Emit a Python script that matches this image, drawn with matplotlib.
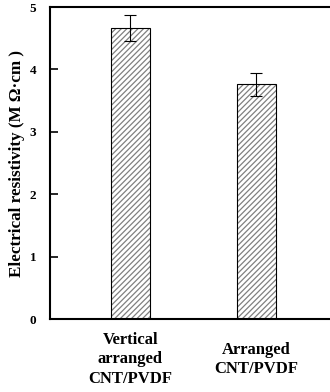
import numpy as np
import matplotlib.pyplot as plt

plt.rcParams['font.family'] = ['Liberation Serif', 'DejaVu Serif']
plt.rcParams['font.weight'] = 'bold'
plt.rcParams['hatch.linewidth'] = 0.9

samples = ['Vertical\narranged\nCNT/PVDF', 'Arranged\nCNT/PVDF']
resistivity = [4.66, 3.76]
errors = [0.21, 0.18]

fig = plt.figure(figsize=(3.3, 3.92), dpi=100)
ax = fig.add_axes([0.152, 0.186, 0.848, 0.796])

x = np.arange(len(samples))
# hatch in grey, outline in black
ax.bar(x, resistivity, width=0.31, color='white', edgecolor='#808080',
       hatch='//////', linewidth=0)
ax.bar(x, resistivity, width=0.31, fill=False, edgecolor='black', linewidth=0.8)
ax.errorbar(x, resistivity, yerr=errors, fmt='none', ecolor='black',
            elinewidth=0.8, capsize=4, capthick=0.8)

ax.set_xlim(-0.635, 1.587)
ax.set_ylim(0, 5)
ax.set_yticks([0, 1, 2, 3, 4, 5])
ax.tick_params(axis='y', direction='in', length=6, width=1.2, labelsize=9.5, pad=10)
ax.set_xticks(x)
ax.set_xticklabels(samples, fontsize=12, fontweight='bold', linespacing=1.3, va='center')
ax.tick_params(axis='x', length=0, pad=29)

ax.spines['right'].set_visible(False)
for s in ['left', 'top', 'bottom']:
    ax.spines[s].set_linewidth(1.5)

ax.set_ylabel('Electrical resistivity (M \u03a9\u00b7cm )', fontsize=12.3,
              fontweight='bold', labelpad=3)

fig.savefig('out.png', dpi=100)
